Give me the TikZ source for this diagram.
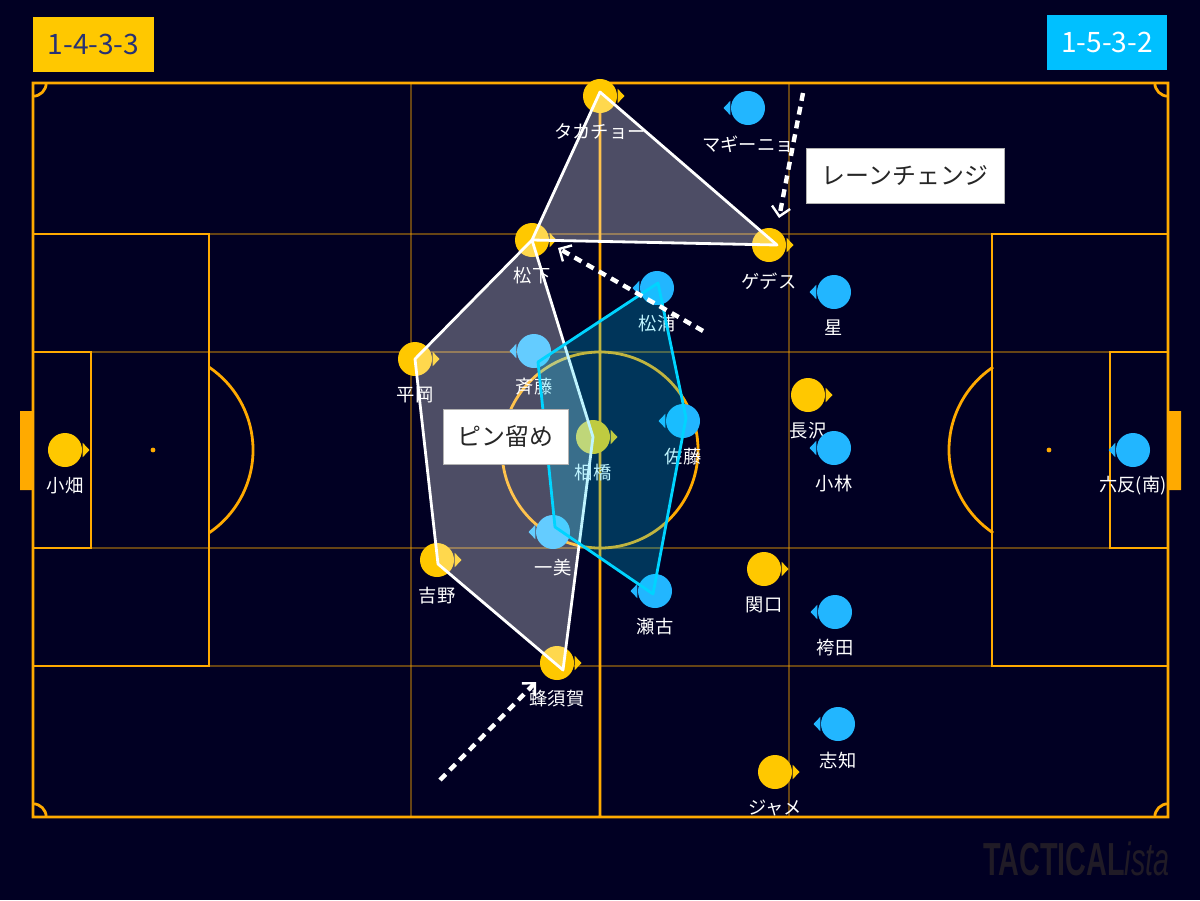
\documentclass[tikz,border=0pt]{standalone}
\usepackage{fontspec}
\setmainfont{Noto Sans CJK JP}
\newfontfamily\wmfont{Liberation Sans}
\usepackage{tikz}
\usetikzlibrary{arrows.meta}
\definecolor{navy}{RGB}{1,0,35}
\definecolor{pline}{RGB}{255,170,0}
\definecolor{yel}{RGB}{255,200,0}
\definecolor{blu}{RGB}{34,182,255}
\definecolor{cya}{RGB}{0,212,255}
\definecolor{tagblu}{RGB}{0,192,255}
\definecolor{tagtxt}{RGB}{40,50,115}
\definecolor{mark}{RGB}{32,27,38}
\newcommand{\ypl}[3]{\node[yp](#1)at(#2){};
\fill[yel]([shift={(.01cm,.18cm)}]#1.east)--++(.17cm,-.18cm)--++(-.17cm,-.18cm)--cycle;
\node[lab](#1l)at([yshift=-.9cm]#1.center){#3};}
\newcommand{\bpl}[3]{\node[bp](#1)at(#2){};
\fill[blu]([shift={(-.01cm,.18cm)}]#1.west)--++(-.17cm,-.18cm)--++(.17cm,-.18cm)--cycle;
\node[lab](#1l)at([yshift=-.9cm]#1.center){#3};}

\begin{document}
\begin{tikzpicture}[x=.025cm,y=-.025cm,
pl/.style={pline,line width=.07cm},
grid/.style={pline,opacity=.4,line width=.07cm},
yp/.style={circle,fill=yel,minimum size=.85cm,inner sep=0pt},
bp/.style={circle,fill=blu,minimum size=.85cm,inner sep=0pt},
lab/.style={text=white,inner sep=0pt,font=\fontsize{13}{13}\selectfont},
wshape/.style={fill=white,fill opacity=.3,draw=white,line width=.07cm,line join=round},
cshape/.style={fill=cya,fill opacity=.25,draw=cya,line width=.07cm,line join=round},
move/.style={white,line width=.11cm,dash pattern=on .2cm off .15cm,-{Straight Barb[length=.23cm,width=.46cm,line width=.06cm]}},
tag/.style={minimum width=3.02cm,minimum height=1.375cm,inner sep=0pt,font=\fontsize{20}{20}\selectfont},
note/.style={fill=white,draw=gray!60,line width=.5pt,text=black!85,minimum height=1.375cm,inner sep=0pt,font=\fontsize{17}{17}\selectfont}]
\useasboundingbox(0,0)rectangle(1200,900);
\fill[navy](0,0)rectangle(1200,900);
\draw[grid](411,83)--(411,817)(789,83)--(789,817);
\foreach \y in {234,352,548,666} \draw[grid](33,\y)--(1168,\y);
\draw[pl](33,83)rectangle(1168,817)(600,83)--(600,817)(600,450)circle[radius=2.45cm];
\draw[pl](33,234)rectangle(209,666)(33,352)rectangle(91,548);
\draw[pl](1168,234)rectangle(992,666)(1168,352)rectangle(1110,548);
\draw[pl](153,450)++(-56:2.5cm)arc[start angle=-56,end angle=56,radius=2.5cm];
\draw[pl](1049,450)++(124:2.5cm)arc[start angle=124,end angle=236,radius=2.5cm];
\fill[pline](153,450)circle[radius=.06cm](1049,450)circle[radius=.06cm];
\fill[pline](20,411)rectangle(33,490)(1168,411)rectangle(1181,490);
\begin{scope}
\clip(33,83)rectangle(1168,817);
\foreach \c in {(33,83),(1168,83),(33,817),(1168,817)} \draw[pl]\c circle[radius=.33cm];
\end{scope}

\ypl{kob}{65,450}{小畑}
\ypl{tak}{600,96}{タカチョー}
\ypl{mat}{532,240}{松下}
\ypl{ged}{769,245}{ゲデス}
\ypl{hir}{415,359}{平岡}
\ypl{aih}{593,437}{相橋}
\ypl{nag}{808,395}{長沢}
\ypl{yos}{437,560}{吉野}
\ypl{hac}{557,663}{蜂須賀}
\ypl{seki}{764,569}{関口}
\ypl{jam}{775,772}{ジャメ}
\bpl{mag}{748,108}{マギーニョ}
\bpl{mau}{657,288}{松浦}
\bpl{hos}{834,292}{星}
\bpl{sai}{534,351}{斉藤}
\bpl{sat}{683,421}{佐藤}
\bpl{koba}{834,448}{小林}
\bpl{rok}{1133,450}{六反(南)}
\bpl{kaz}{553,532}{一美}
\bpl{seko}{655,591}{瀬古}
\bpl{hak}{835,612}{袴田}
\bpl{shi}{838,724}{志知}

\draw[wshape]([shift={(0,-4)}]tak.center)--(mat.center)--([shift={(8,0)}]ged.center)--cycle;
\draw[wshape](mat.center)--(hir.center)--([shift={(1,4)}]yos.center)--([shift={(6,7)}]hac.center)--(aih.center)--cycle;
\draw[cshape]([shift={(1,-5)}]mau.center)--([shift={(3,-3)}]sat.center)--([shift={(-2,3)}]seko.center)--([shift={(2,-5)}]kaz.center)--([shift={(4,11)}]sai.center)--cycle;

\coordinate(l1)at(803,93);\coordinate(l2)at(779,218);
\coordinate(m1)at(703,331);\coordinate(m2)at(558,248);
\coordinate(h1)at(440,780);\coordinate(h2)at(536,682);
\draw[move](l1)--(l2);
\draw[move](m1)--(m2);
\draw[move](h1)--(h2);

\node[note,minimum width=4.95cm](lane)at(905,175.5){レーンチェンジ};
\node[note,minimum width=3.125cm](pin)at(505.5,436.5){ピン留め};
\node[tag,fill=yel,text=tagtxt](f433)at(93.5,44.5){1-4-3-3};
\node[tag,fill=tagblu,text=white](f532)at(1107,42.5){1-5-3-2};
\node[anchor=east,text=mark,inner sep=0pt](logo)at(1170,859){\scalebox{.62}[1]{\wmfont\fontsize{33}{33}\selectfont\bfseries TACTICAL\mdseries\itshape ista}};
\end{tikzpicture}
\end{document}
